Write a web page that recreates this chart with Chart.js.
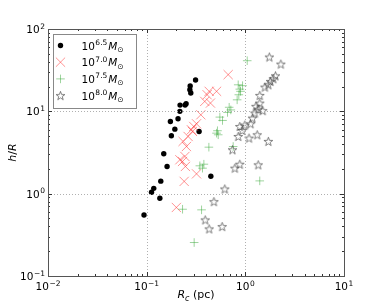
<!DOCTYPE html>
<html>
<head>
<meta charset="utf-8">
<script src="https://cdn.jsdelivr.net/npm/chart.js@4.4.0/dist/chart.umd.min.js"></script>
<style>
html, body { margin: 0; padding: 0; background: #fff; }
#wrap { width: 382px; height: 306px; }
</style>
</head>
<body>
<div id="wrap"><canvas id="myChart" width="382" height="306"></canvas></div>
<script>
// datos (Rc en pc, h/R)
const m65X = [0.094, 0.112, 0.118, 0.139, 0.136, 0.149, 0.161, 0.174, 0.178, 0.193, 0.208, 0.217, 0.218, 0.245, 0.251, 0.274, 0.276, 0.280, 0.313, 0.340, 0.447];
const m65Y = [0.55, 1.04, 1.16, 1.42, 0.88, 3.05, 2.14, 7.54, 5.05, 6.08, 8.13, 10.0, 11.9, 11.9, 12.4, 18.3, 20.3, 16.7, 24.0, 5.70, 1.63];

const m70X = [0.200, 0.240, 0.320, 0.217, 0.231, 0.244, 0.247, 0.234, 0.253, 0.263, 0.284, 0.300, 0.320, 0.291, 0.354, 0.388, 0.410, 0.430, 0.443, 0.511, 0.670];
const m70Y = [0.68, 1.41, 1.74, 2.58, 2.46, 2.83, 2.14, 4.31, 3.74, 4.95, 5.97, 6.55, 7.06, 5.70, 9.08, 13.2, 15.9, 17.5, 12.6, 17.5, 27.9];

const m75X = [0.303, 0.231, 0.360, 0.346, 0.380, 0.368, 0.427, 0.511, 0.531, 0.522, 0.552, 0.587, 0.660, 0.686, 0.713, 0.826, 0.859, 0.879, 0.847, 0.937, 0.894, 1.045, 0.753, 1.40];
const m75Y = [0.255, 0.647, 0.636, 2.18, 2.28, 2.04, 3.67, 5.43, 5.19, 5.81, 8.51, 7.75, 9.70, 11.2, 10.4, 13.8, 15.9, 18.6, 21.0, 20.5, 17.5, 41.2, 3.74, 1.43];

const m80X = [0.619, 0.480, 0.392, 0.430, 0.582, 0.741, 0.783, 0.879, 1.35, 1.71, 1.32, 0.847, 0.879, 0.929, 0.988, 1.09, 1.13, 1.18, 1.25, 1.28, 1.35, 1.40, 1.50, 1.40, 1.58, 1.71, 1.80, 1.92, 2.02, 1.75, 2.29];
const m80Y = [1.14, 0.80, 0.48, 0.373, 0.398, 3.41, 2.04, 2.28, 2.24, 4.31, 5.19, 4.95, 6.55, 5.86, 6.81, 4.73, 7.06, 8.28, 9.53, 11.5, 10.6, 12.6, 10.2, 15.6, 19.7, 21.0, 23.1, 24.9, 27.0, 45.7, 37.5];

const legendExp = ['6.5', '7.0', '7.5', '8.0'];
const xTicks = [0.01, 0.1, 1, 10];
const xTickExp = ['\u22122', '\u22121', '0', '1'];
const yTicks = [0.1, 1, 10, 100];
const yTickExp = ['\u22121', '0', '1', '2'];

function pares(xs, ys) {
    return xs.map(function (x, i) { return {x: x, y: ys[i]}; });
}

// estrella de 5 puntas sin relleno
function hacerEstrella() {
    const c = document.createElement('canvas');
    c.width = 11; c.height = 11;
    const g = c.getContext('2d');
    g.beginPath();
    for (let i = 0; i < 10; i++) {
        const r = (i % 2 === 0) ? 4.6 : 1.9;
        const a = -Math.PI / 2 + i * Math.PI / 5;
        const px = 5.5 + r * Math.cos(a), py = 5.9 + r * Math.sin(a);
        if (i === 0) g.moveTo(px, py); else g.lineTo(px, py);
    }
    g.closePath();
    g.strokeStyle = '#4a4a4a';
    g.lineWidth = 0.7;
    g.stroke();
    return c;
}
const estrella = hacerEstrella();

const FONT = '"DejaVu Sans", sans-serif';

// dibuja "10^exp" ; align: 'center' | 'right'
function potencia(ctx, x, y, exp, align) {
    ctx.font = '10.5px ' + FONT;
    const wb = ctx.measureText('10').width;
    ctx.font = '7.5px ' + FONT;
    const we = ctx.measureText(exp).width;
    const w = wb + we + 0.5;
    let x0 = align === 'right' ? x - w : x - w / 2;
    ctx.textAlign = 'left';
    ctx.textBaseline = 'alphabetic';
    ctx.font = '10.5px ' + FONT;
    ctx.fillText('10', x0, y);
    ctx.font = '7.5px ' + FONT;
    ctx.fillText(exp, x0 + wb + 0.5, y - 4.5);
}

const marco = {
    id: 'marco',
    afterDraw: function (chart) {
        const ctx = chart.ctx;
        const a = chart.chartArea;
        const sx = chart.scales.x, sy = chart.scales.y;
        ctx.save();
        // rejilla punteada
        ctx.strokeStyle = '#b0b0b0';
        ctx.lineWidth = 1;
        ctx.setLineDash([1, 2]);
        xTicks.forEach(function (v) {
            const px = Math.round(sx.getPixelForValue(v)) + 0.5;
            if (px > a.left + 1 && px < a.right - 1) {
                ctx.beginPath(); ctx.moveTo(px, a.top); ctx.lineTo(px, a.bottom); ctx.stroke();
            }
        });
        yTicks.forEach(function (v) {
            const py = Math.round(sy.getPixelForValue(v)) + 0.5;
            if (py > a.top + 1 && py < a.bottom - 1) {
                ctx.beginPath(); ctx.moveTo(a.left, py); ctx.lineTo(a.right, py); ctx.stroke();
            }
        });
        ctx.setLineDash([]);
        // ticks menores y mayores hacia adentro
        ctx.strokeStyle = '#333';
        ctx.lineWidth = 1;
        for (let d = 0; d < 3; d++) {
            for (let k = 1; k < 10; k++) {
                const len = k === 1 ? 4 : 2;
                const vx = xTicks[d] * k;
                const px = Math.round(sx.getPixelForValue(vx)) + 0.5;
                ctx.beginPath();
                ctx.moveTo(px, a.bottom); ctx.lineTo(px, a.bottom - len);
                ctx.moveTo(px, a.top); ctx.lineTo(px, a.top + len);
                ctx.stroke();
                const vy = yTicks[d] * k;
                const py = Math.round(sy.getPixelForValue(vy)) + 0.5;
                ctx.beginPath();
                ctx.moveTo(a.left, py); ctx.lineTo(a.left + len, py);
                ctx.moveTo(a.right, py); ctx.lineTo(a.right - len, py);
                ctx.stroke();
            }
        }
        // marco
        ctx.strokeStyle = '#555';
        ctx.strokeRect(Math.round(a.left) + 0.5, Math.round(a.top) + 0.5, Math.round(a.right - a.left), Math.round(a.bottom - a.top));
        // etiquetas de ticks
        ctx.fillStyle = '#000';
        xTicks.forEach(function (v, i) {
            potencia(ctx, sx.getPixelForValue(v), a.bottom + 14, xTickExp[i], 'center');
        });
        yTicks.forEach(function (v, i) {
            potencia(ctx, a.left - 3, sy.getPixelForValue(v) + 4, yTickExp[i], 'right');
        });
        // titulo eje x: R_c (pc)
        ctx.textAlign = 'left';
        ctx.textBaseline = 'alphabetic';
        ctx.font = 'italic 11px ' + FONT;
        const wR = ctx.measureText('R').width;
        ctx.font = 'italic 8px ' + FONT;
        const wc = ctx.measureText('c').width;
        ctx.font = '11px ' + FONT;
        const wp = ctx.measureText(' (pc)').width;
        let x0 = (a.left + a.right) / 2 - (wR + wc + wp) / 2;
        const yb = 298;
        ctx.font = 'italic 11px ' + FONT;
        ctx.fillText('R', x0, yb);
        ctx.font = 'italic 8px ' + FONT;
        ctx.fillText('c', x0 + wR, yb + 2.5);
        ctx.font = '11px ' + FONT;
        ctx.fillText(' (pc)', x0 + wR + wc, yb);
        // titulo eje y: h/R
        ctx.save();
        ctx.translate(16, (a.top + a.bottom) / 2);
        ctx.rotate(-Math.PI / 2);
        ctx.font = 'italic 11px ' + FONT;
        const wh = ctx.measureText('h').width;
        const wR2 = ctx.measureText('R').width;
        ctx.font = '11px ' + FONT;
        const ws = ctx.measureText('/').width;
        let y0 = -(wh + ws + wR2) / 2;
        ctx.font = 'italic 11px ' + FONT;
        ctx.fillText('h', y0, 0);
        ctx.font = '11px ' + FONT;
        ctx.fillText('/', y0 + wh, 0);
        ctx.font = 'italic 11px ' + FONT;
        ctx.fillText('R', y0 + wh + ws, 0);
        ctx.restore();
        // leyenda
        const lx = a.left + 5.5, ly = a.top + 5.5, lw = 83, lh = 74;
        ctx.fillStyle = '#fff';
        ctx.fillRect(lx, ly, lw, lh);
        ctx.strokeStyle = '#888';
        ctx.lineWidth = 1;
        ctx.strokeRect(lx, ly, lw, lh);
        chart.data.datasets.forEach(function (ds, i) {
            const cy = ly + 11 + i * 16.7;
            const cx = lx + 7;
            ctx.fillStyle = ds.backgroundColor;
            ctx.strokeStyle = ds.borderColor;
            ctx.lineWidth = ds.borderWidth;
            if (ds.pointStyle === 'circle') {
                ctx.beginPath(); ctx.arc(cx, cy, ds.pointRadius, 0, Math.PI * 2); ctx.fill();
            } else {
                Chart.helpers.drawPoint(ctx, {pointStyle: ds.pointStyle, radius: ds.pointRadius, rotation: 0, borderWidth: ds.borderWidth}, cx, cy);
            }
            // texto 10^exp M_sun
            ctx.fillStyle = '#000';
            const tx = lx + 28, ty = cy + 4;
            ctx.textAlign = 'left';
            ctx.font = '10.5px ' + FONT;
            ctx.fillText('10', tx, ty);
            const w10 = ctx.measureText('10').width;
            ctx.font = '7.5px ' + FONT;
            ctx.fillText(legendExp[i], tx + w10 + 0.5, ty - 4.5);
            const wexp = ctx.measureText(legendExp[i]).width;
            ctx.font = 'italic 10.5px ' + FONT;
            ctx.fillText('M', tx + w10 + wexp + 1.5, ty);
            const wM = ctx.measureText('M').width;
            ctx.font = '7.5px ' + FONT;
            ctx.fillText('\u2299', tx + w10 + wexp + 1.5 + wM, ty + 2.5);
        });
        ctx.restore();
    }
};

const ctx = document.getElementById('myChart');
const myChart = new Chart(ctx, {
    type: 'scatter',
    data: {
        datasets: [{
            label: '10^6.5',
            data: pares(m65X, m65Y),
            pointStyle: 'circle',
            pointRadius: 2.7,
            backgroundColor: '#000',
            borderColor: '#000',
            borderWidth: 0,
            order: 4
        }, {
            label: '10^7.0',
            data: pares(m70X, m70Y),
            pointStyle: 'crossRot',
            pointRadius: 6.5,
            backgroundColor: 'rgba(255,40,40,0.5)',
            borderColor: 'rgba(255,40,40,0.5)',
            borderWidth: 1,
            order: 3
        }, {
            label: '10^7.5',
            data: pares(m75X, m75Y),
            pointStyle: 'cross',
            pointRadius: 4.3,
            backgroundColor: 'rgba(40,160,40,0.45)',
            borderColor: 'rgba(40,160,40,0.45)',
            borderWidth: 1,
            order: 2
        }, {
            label: '10^8.0',
            data: pares(m80X, m80Y),
            pointStyle: estrella,
            pointRadius: 4.5,
            backgroundColor: 'rgba(0,0,0,0)',
            borderColor: '#333',
            borderWidth: 1,
            order: 1
        }]
    },
    options: {
        responsive: false,
        animation: false,
        devicePixelRatio: 1,
        layout: { padding: { left: 48, right: 38, top: 29, bottom: 30 } },
        plugins: { legend: { display: false }, tooltip: { enabled: false } },
        scales: {
            x: { type: 'logarithmic', min: 0.01, max: 10, display: false },
            y: { type: 'logarithmic', min: 0.1, max: 100, display: false }
        }
    },
    plugins: [marco]
}); //fin del chart
</script>
</body>
</html>
